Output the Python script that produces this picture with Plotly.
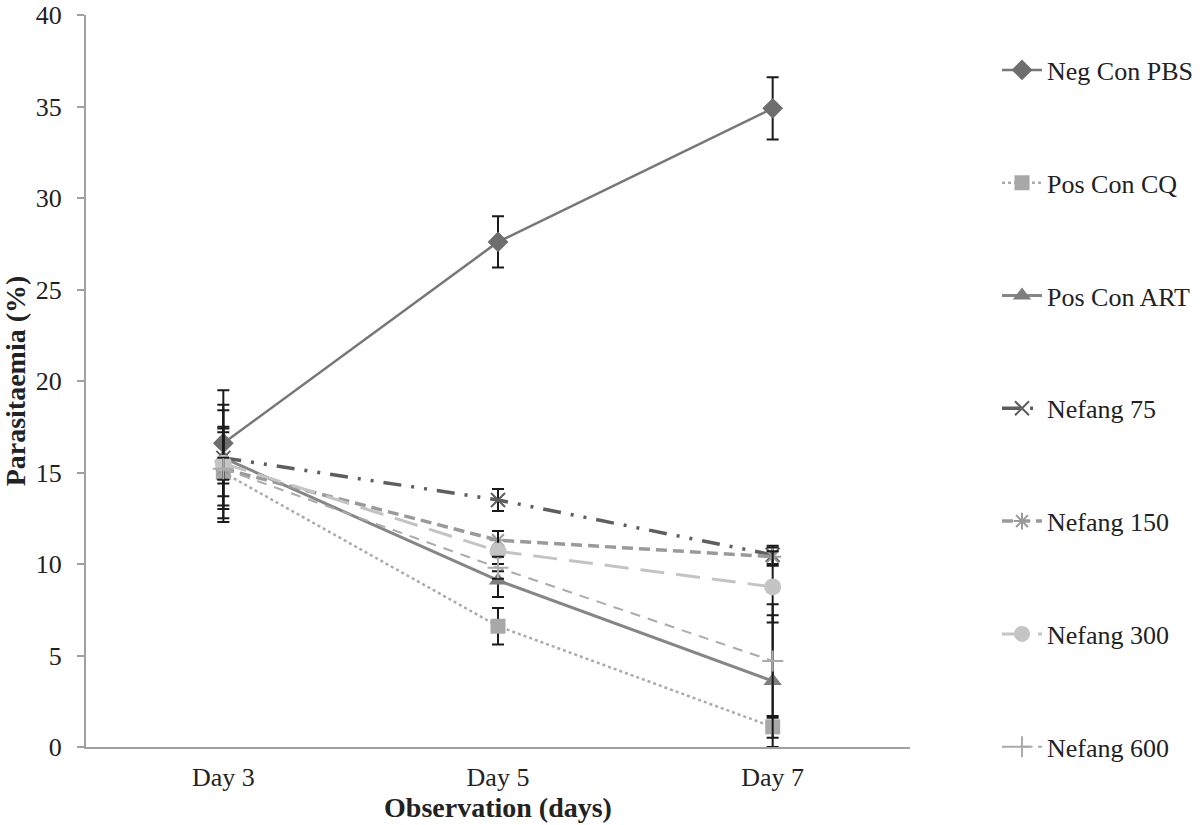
import plotly.graph_objects as go

days = ["Day 3", "Day 5", "Day 7"]

series_names = ["Neg Con PBS", "Pos Con CQ", "Pos Con ART", "Nefang 75",
                "Nefang 150", "Nefang 300", "Nefang 600"]

neg_con_pbs = [16.6, 27.6, 34.9]
neg_con_pbs_err = [2.9, 1.4, 1.7]
pos_con_cq = [15.0, 6.6, 1.1]
pos_con_cq_err = [2.5, 1.0, 0.6]
pos_con_art = [15.8, 9.1, 3.6]
pos_con_art_err = [1.4, 0.9, 3.6]
nefang_75 = [15.8, 13.5, 10.5]
nefang_75_err = [2.6, 0.6, 0.5]
nefang_150 = [15.2, 11.3, 10.4]
nefang_150_err = [2.2, 0.5, 0.5]
nefang_300 = [15.5, 10.7, 8.75]
nefang_300_err = [3.2, 1.1, 1.95]
nefang_600 = [15.2, 9.8, 4.7]
nefang_600_err = [0.6, 0.6, 3.1]

values = [neg_con_pbs, pos_con_cq, pos_con_art, nefang_75, nefang_150, nefang_300, nefang_600]
errors = [neg_con_pbs_err, pos_con_cq_err, pos_con_art_err, nefang_75_err,
          nefang_150_err, nefang_300_err, nefang_600_err]

styles = [
    dict(color="#777777", mcolor="#6e6e6e", dash="solid", symbol="diamond", size=16, width=2.5),
    dict(color="#ababab", mcolor="#a8a8a8", dash="dot", symbol="square", size=15, width=2.5),
    dict(color="#868686", mcolor="#7e7e7e", dash="solid", symbol="triangle-up", size=16, width=3),
    dict(color="#5e5e5e", mcolor="#5e5e5e", dash="18px,10px,3px,10px,3px,10px", symbol="x-thin-open", size=14, width=3.5),
    dict(color="#9a9a9a", mcolor="#9a9a9a", dash="11px,6px", symbol="asterisk-open", size=14, width=3.5),
    dict(color="#c4c4c4", mcolor="#c4c4c4", dash="24px,12px", symbol="circle", size=17, width=3),
    dict(color="#ababab", mcolor="#ababab", dash="10px,8px", symbol="cross-thin-open", size=15, width=2),
]

font_family = "Liberation Serif, Times New Roman, serif"
text_color = "#222222"

fig = go.Figure()
for i, (name, vals, errs, st) in enumerate(zip(series_names, values, errors, styles)):
    thin = st["symbol"].endswith("open")
    marker = dict(symbol=st["symbol"], size=st["size"], color=st["mcolor"])
    if thin:
        marker["line"] = dict(color=st["mcolor"], width=2)
    else:
        marker["line"] = dict(width=0)
    fig.add_trace(go.Scatter(
        x=days, y=vals, name=name, mode="lines+markers",
        line=dict(color=st["color"], width=st["width"], dash=st["dash"]),
        marker=marker,
        error_y=dict(type="data", array=errs, visible=True, color="#1a1a1a",
                     thickness=2, width=6),
        legendgroup=f"g{i}",
    ))

fig.update_layout(
    width=1200, height=825,
    margin=dict(l=86, r=290, t=15, b=78, autoexpand=False),
    paper_bgcolor="white", plot_bgcolor="white",
    font=dict(family=font_family, size=26, color=text_color),
    showlegend=True,
    legend=dict(
        x=1.1056, y=0.957, xanchor="left", yanchor="top",
        font=dict(family=font_family, size=26, color=text_color),
        tracegroupgap=76, itemwidth=40, maxheight=900,
        bgcolor="rgba(0,0,0,0)",
    ),
    xaxis=dict(
        range=[-0.5, 2.5],
        showline=True, linecolor="#a0a0a0", linewidth=2,
        showgrid=False, ticks="", zeroline=False, automargin=False,
        tickfont=dict(family=font_family, size=26, color=text_color),
        ticklabelstandoff=6,
        title=dict(text="<b>Observation (days)</b>", standoff=0,
                   font=dict(family=font_family, size=28, color=text_color)),
    ),
    yaxis=dict(
        range=[0, 40], dtick=5, showline=True, linecolor="#a0a0a0", linewidth=2,
        showgrid=False, ticks="outside", ticklen=7, tickcolor="#a0a0a0", tickwidth=2,
        zeroline=False, automargin=False, ticklabeloverflow="allow",
        tickfont=dict(family=font_family, size=26, color=text_color),
        ticklabelstandoff=10,
        title=dict(text="<b>Parasitaemia (%)</b>", standoff=5,
                   font=dict(family=font_family, size=28, color=text_color)),
    ),
)

fig.write_html("out.html", config={"displayModeBar": False},
               post_script="document.body.style.margin='0';")
